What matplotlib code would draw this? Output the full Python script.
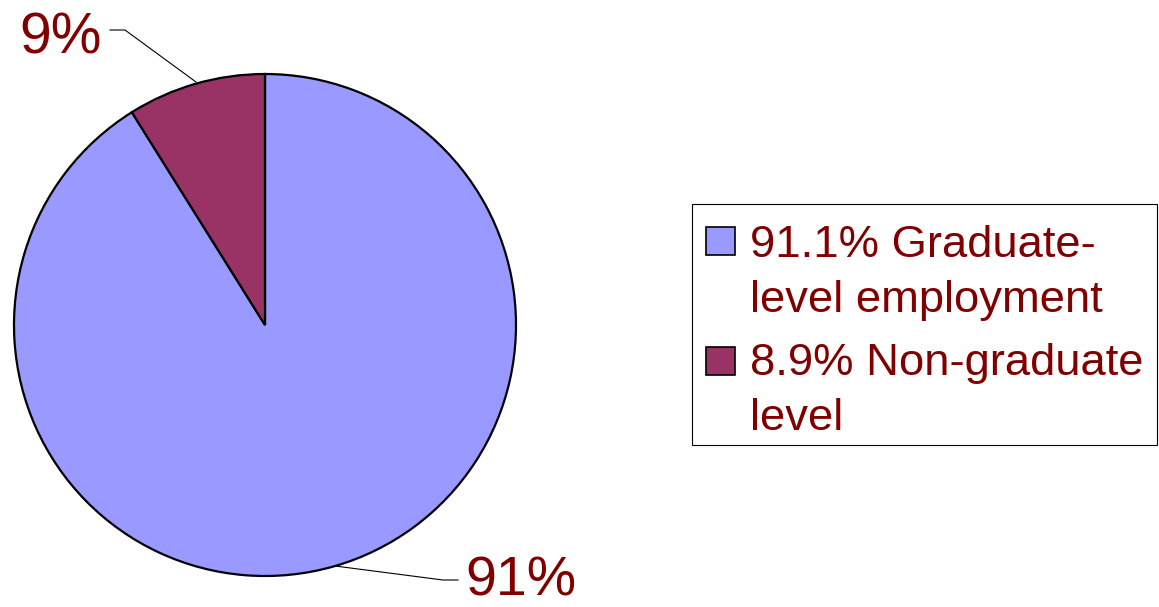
import matplotlib
matplotlib.use("Agg")
import matplotlib.pyplot as plt
from matplotlib.patches import Rectangle

categories = ["Graduate-level employment", "Non-graduate level"]
values = [91.1, 8.9]
legend_labels = [["91.1% Graduate-", "level employment"], ["8.9% Non-graduate", "level"]]
slice_labels = ["91%", "9%"]
colors = ["#9999FF", "#993366"]
text_color = "#800000"

plt.rcParams["font.family"] = ["Liberation Sans", "DejaVu Sans"]

W, H = 1159, 607
fig = plt.figure(figsize=(W / 100, H / 100), dpi=100)
ax = fig.add_axes([0, 0, 1, 1])

cx, cy, r = 265, H - 325, 251
wedges, _ = ax.pie(values, colors=colors, startangle=90, counterclock=False,
                   center=(cx, cy), radius=r, frame=True,
                   wedgeprops=dict(edgecolor="black", linewidth=1.6))
ax.set_xlim(0, W)
ax.set_ylim(0, H)
ax.set_aspect("equal")
ax.axis("off")

# leader lines and slice labels
ax.plot([196, 125, 110], [H - 82, H - 30, H - 30], color="black", lw=0.8)
ax.text(102, H - 53, slice_labels[1], ha="right", va="baseline",
        fontsize=41, color=text_color)
ax.plot([335, 443, 458], [H - 566, H - 580, H - 580], color="black", lw=0.8)
ax.text(465, H - 595, slice_labels[0], ha="left", va="baseline",
        fontsize=40, color=text_color)

# legend
ax.add_patch(Rectangle((692, H - 445), 1157 - 692, 445 - 204, facecolor="white",
                       edgecolor="black", lw=0.8))
marker_tops = [227, 347]
line_baselines = [[257, 312], [375, 430]]
for i, lines in enumerate(legend_labels):
    ax.add_patch(Rectangle((706, H - marker_tops[i] - 28), 29, 28,
                           facecolor=colors[i], edgecolor="black", lw=1.2))
    for line, base in zip(lines, line_baselines[i]):
        ax.text(750, H - base, line, ha="left", va="baseline",
                fontsize=32.7, color=text_color)

fig.savefig("out.png", dpi=100)
